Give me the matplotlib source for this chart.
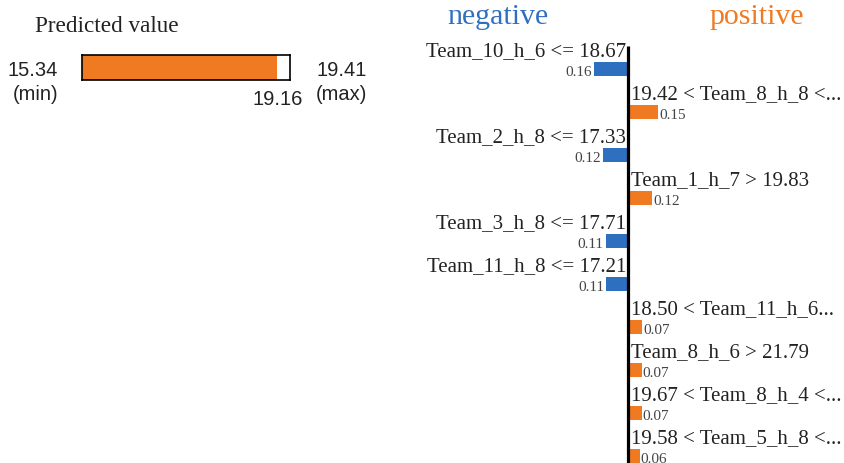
import matplotlib.pyplot as plt
import matplotlib.transforms as mtransforms

# LIME explanation: predicted value panel + feature weights
pred_min = 15.34
pred_max = 19.41
pred_value = 19.16

features = [
    'Team_10_h_6 <= 18.67',
    '19.42 < Team_8_h_8 <...',
    'Team_2_h_8 <= 17.33',
    'Team_1_h_7 > 19.83',
    'Team_3_h_8 <= 17.71',
    'Team_11_h_8 <= 17.21',
    '18.50 < Team_11_h_6...',
    'Team_8_h_6 > 21.79',
    '19.67 < Team_8_h_4 <...',
    '19.58 < Team_5_h_8 <...',
]
weights = [-0.163, 0.147, -0.122, 0.116, -0.108, -0.107, 0.068, 0.067, 0.066, 0.056]

BLUE = '#2f6fc0'
ORANGE = '#f07a21'
W, H = 844, 464

fig = plt.figure(figsize=(W / 100, H / 100), dpi=100)


def fx(px):
    return px / W


def fy(py):
    return 1 - py / H


# --- predicted value panel ---
ax_p = fig.add_axes([fx(82), fy(81), fx(290) - fx(82), (81 - 56) / H])
ax_p.barh([0], [pred_value - pred_min], left=pred_min, height=1.0, color=ORANGE)
ax_p.set_xlim(pred_min, pred_max)
ax_p.set_ylim(-0.5, 0.5)
ax_p.set_xticks([])
ax_p.set_yticks([])
for s in ax_p.spines.values():
    s.set_linewidth(1.2)
    s.set_color('black')

serif = 'Liberation Serif'
sans = 'Liberation Sans'
fig.text(fx(35), fy(26), 'Predicted value', family=serif, fontsize=16.7,
         ha='left', va='center', color='#222222')
fig.text(fx(58), fy(70), f'{pred_min:.2f}', family=sans, fontsize=14.5,
         ha='right', va='center', color='#222222')
fig.text(fx(58), fy(95), '(min)', family=sans, fontsize=14.5,
         ha='right', va='center', color='#222222')
fig.text(fx(316), fy(70), f'{pred_max:.2f}', family=sans, fontsize=14.5,
         ha='left', va='center', color='#222222')
fig.text(fx(316), fy(95), '(max)', family=sans, fontsize=14.5,
         ha='left', va='center', color='#222222')
trans = mtransforms.blended_transform_factory(ax_p.transData, ax_p.transAxes)
ax_p.text(pred_value, -0.76, f'{pred_value:.2f}', transform=trans, family=sans,
          fontsize=14.5, ha='center', va='center', color='#222222', clip_on=False)

# --- feature weights panel ---
scale = 206.0  # px per unit weight
ax = fig.add_axes([fx(428), 0, fx(400), 1])
ax.set_xlim(-200 / scale, 200 / scale)
row_px = 43.0
ax.set_ylim((H - 70) / row_px, -70 / row_px)
ax.axis('off')

rows = list(range(len(features)))
colors = [ORANGE if w > 0 else BLUE for w in weights]
ax.barh(rows, weights, height=14 / row_px, color=colors)
ax.plot([0, 0], [-23 / row_px, (H + 5 - 70) / row_px], color='black',
        lw=2.3, solid_capstyle='butt')

for i, (name, w) in enumerate(zip(features, weights)):
    if w > 0:
        ax.text(3 / scale, i - 18.5 / row_px, name, family=serif, fontsize=15,
                ha='left', va='center', color='#222222')
        ax.text(w + 1 / scale, i + 3 / row_px, f'{abs(w):.2f}', family=serif,
                fontsize=11, ha='left', va='center', color='#444444')
    else:
        ax.text(-2 / scale, i - 18.5 / row_px, name, family=serif, fontsize=15,
                ha='right', va='center', color='#222222')
        ax.text(w - 2 / scale, i + 3 / row_px, f'{abs(w):.2f}', family=serif,
                fontsize=11, ha='right', va='center', color='#444444')

fig.text(fx(498), fy(17), 'negative', family=serif, fontsize=21.5,
         ha='center', va='center', color=BLUE)
fig.text(fx(757), fy(17), 'positive', family=serif, fontsize=21.5,
         ha='center', va='center', color=ORANGE)

fig.savefig('out.png', dpi=100)
